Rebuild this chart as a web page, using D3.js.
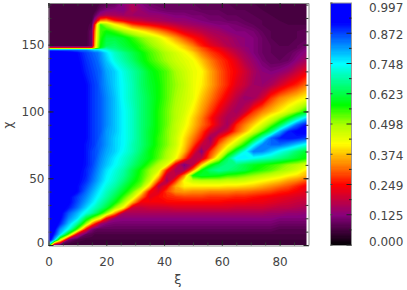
<!DOCTYPE html>
<html>
<head>
<meta charset="utf-8">
<script src="https://cdn.jsdelivr.net/npm/d3@7"></script>
<style>
body { margin: 0; background: #fff; }
text { font-family: "DejaVu Sans", sans-serif; font-size: 12px; fill: #444; }
</style>
</head>
<body>
<div id="chart"></div>
<script>
var xiVals = [0,2,4,7,10,13,15,16,17,18,20,23,26,29,32,35,38,41,44,47,50,53,56,59,62,65,68,71,74,77,80,83,86,90];
var chiVals = [0,4,8,12,16,20,24,28,32,36,40,44,48,52,56,60,65,70,75,80,85,90,95,100,110,120,130,138,144,146,147.5,149,155,160,165,168,172,176,181.2];

// percent of the colour bar range, one row per chi, bottom row first
var cells = [
[70,9,6,5,5,5,5,5,5,5,5,5,5,5,5,5,5,5,5,5,5,5,5,5,5,5,5,5,5,5,5,5,5,5],
[99,80,47,11,7,6,6,6,6,6,6,6,6,6,6,6,6,6,6,6,6,6,6,6,6,6,6,6,6,6,6,6,6,6],
[99,90,78,54,20,9,8,7,7,7,7,7,7,7,7,7,7,7,7,7,7,7,7,7,7,7,7,7,7,7,7,7,7,7],
[99,94,83,74,55,25,12,10,9,9,9,9,9,9,9,9,9,9,9,9,9,9,9,9,9,9,9,9,9,9,8,8,8,8],
[99,96,90,79,68,50,34,27,21,15,12,11,11,11,11,11,11,11,11,11,11,11,11,11,11,11,11,11,11,11,10,10,10,10],
[99,97,93,83,77,62,54,50,46,42,25,14,13,13,13,13,13,13,13,13,13,13,13,13,13,13,13,13,13,13,12,12,12,12],
[99,97,94,86,80,73,69,66,63,59,51,35,16,16,16,16,16,16,16,16,16,16,16,16,16,16,16,16,16,15,15,14,14,13],
[99,98,95,91,85,78,73,71,69,67,62,51,42,20,19,20,20,20,21,21,21,21,21,21,21,20,20,20,20,19,18,18,17,16],
[99,98,96,93,87,81,77,75,72,70,66,59,50,37,24,24,24,25,25,25,25,25,25,25,24,24,24,23,23,22,21,20,19,18],
[99,98,96,93,88,83,79,77,75,73,69,63,55,47,33,22,25,27,28,29,29,29,28,28,28,27,27,26,25,24,23,22,21,20],
[99,98,97,94,92,85,81,79,77,75,71,66,60,53,43,25,21,29,34,35,34,34,33,33,33,32,32,31,30,29,27,26,24,22],
[99,98,97,95,92,87,83,81,79,77,73,69,63,57,52,39,18,24,36,41,41,41,41,41,40,40,39,38,36,34,32,30,27,23],
[99,98,97,95,93,89,85,83,81,79,75,71,66,60,55,47,30,15,28,43,47,48,48,48,47,47,46,44,42,40,38,35,33,29],
[99,98,97,96,93,90,86,84,82,80,76,72,68,62,56,50,40,18,18,33,58,61,60,59,56,55,53,51,49,47,45,42,40,36],
[99,98,97,96,94,90,87,85,83,81,77,73,69,63,57,51,46,26,16,16,33,58,65,68,66,64,62,58,56,54,51,49,46,39],
[99,98,97,96,94,91,88,86,84,82,79,75,71,66,61,55,49,44,22,11,18,38,56,63,67,66,63,60,58,56,54,51,49,45],
[99,98,97,96,95,91,88,87,85,83,80,76,72,68,63,59,54,49,43,30,17,19,32,47,64,76,76,74,72,70,67,64,61,57],
[99,98,97,96,95,91,88,87,86,84,81,78,74,70,65,59,55,50,45,37,24,12,28,37,50,62,74,84,83,79,74,70,65,60],
[99,98,97,96,95,91,89,88,86,85,82,78,75,70,66,61,56,52,47,39,30,19,17,32,40,49,58,74,83,85,85,82,78,72],
[99,98,97,96,95,92,89,88,87,85,82,78,75,71,66,61,56,52,47,40,33,26,14,25,33,40,49,58,72,85,90,91,90,87],
[99,98,97,96,95,92,89,88,87,86,82,79,75,71,66,61,57,52,48,42,36,29,21,16,21,30,37,46,54,65,80,90,93,94],
[99,98,97,96,95,92,89,88,87,86,83,79,75,71,66,62,57,53,48,44,38,32,27,20,15,27,33,39,46,53,62,74,85,93],
[99,98,97,96,95,92,89,88,87,86,83,79,75,71,66,62,57,53,49,45,39,33,26,20,16,18,28,33,39,45,51,58,68,80],
[99,98,97,96,95,92,89,88,87,86,83,79,75,71,66,62,57,53,49,46,41,35,29,23,18,15,19,28,33,37,41,46,51,60],
[99,98,97,96,95,92,89,88,87,86,83,79,74,70,66,62,58,54,50,47,44,38,33,28,23,18,14,15,20,28,33,36,39,43],
[99,98,97,96,95,92,89,88,87,85,82,78,74,70,65,61,58,54,51,48,44,41,36,31,27,22,19,15,14,16,20,24,27,33],
[99,98,97,96,94,90,88,87,86,85,81,78,73,69,65,60,57,54,50,47,44,42,36,31,27,24,20,16,13,12,13,15,19,24],
[99,98,97,95,93,89,87,86,85,83,79,73,69,65,60,56,53,50,47,45,43,38,33,29,26,22,17,14,11,9,9,10,13,17],
[99,98,97,95,92,88,86,85,84,82,77,71,67,63,59,55,52,49,46,43,39,33,29,26,22,18,15,12,10,9,8,9,11,14],
[85,85,85,85,85,84,80,78,78,76,73,68,64,61,57,54,51,47,44,41,36,31,27,24,20,17,14,12,10,9,8,8,10,13],
[25,25,25,25,25,25,26,38,50,60,68,66,63,60,56,53,50,46,43,39,35,30,26,23,19,16,14,12,10,9,8,8,9,12],
[6,6,6,6,6,6,10,35,50,58,64,65,62,59,56,52,49,45,42,38,33,27,23,20,17,15,13,12,10,9,8,8,9,11],
[6,6,6,6,6,6,10,33,47,56,62,62,60,56,52,49,45,40,35,30,26,23,19,17,16,14,13,12,10,8,7,7,8,9],
[6,6,6,6,6,6,10,31,46,55,58,55,50,46,42,38,34,30,26,22,20,18,16,15,13,12,12,11,9,8,7,7,8,9],
[6,6,6,6,6,6,8,25,44,55,50,42,37,29,26,24,22,20,18,16,15,14,13,12,12,11,10,9,8,7,7,7,7,7],
[6,6,6,6,6,6,7,15,24,33,35,27,23,20,19,17,16,15,14,14,13,12,11,11,10,10,9,8,8,7,7,6,6,6],
[6,6,6,6,6,6,6,9,12,15,17,16,15,15,14,14,14,13,12,12,11,11,10,10,9,9,8,8,7,7,6,6,6,6],
[6,6,6,6,6,6,6,6,8,10,12,13,12,17,14,12,11,10,10,10,10,9,9,9,8,8,8,7,7,6,6,6,6,6],
[6,6,6,6,6,6,6,6,6,7,8,9,13,16,12,10,9,9,9,9,9,8,8,8,8,7,7,7,6,6,6,6,6,6]
];

var xTicks = [0,20,40,60,80];
var yTicks = [0,50,100,150];
var xMinor = [0,5,10,15,20,25,30,35,40,45,50,55,60,65,70,75,80,85];
var yMinor = [0,10,20,30,40,50,60,70,80,90,100,110,120,130,140,150,160,170,180];
var barLabels = ["0.000","0.125","0.249","0.374","0.498","0.623","0.748","0.872","0.997"];

var colorStops = [0,12.5,25,33,42,50,58,75,92,100];
var colorValues = ["#000000","#88007c","#ff0000","#ff8000","#ffff00","#aaff00","#00ff00","#00ffff","#0000ff","#0000ff"];

var width = 407;
var height = 290;
var x0 = 48.5, x1 = 308.5, imgRight = 306.5, y0 = 245, y1 = 3;
var barL = 330.5, barR = 351.5;

var color = d3.scaleLinear().domain(colorStops).range(colorValues);
var x = d3.scaleLinear().domain([0,90]).range([x0,x1]);
var y = d3.scaleLinear().domain([0,181.2]).range([y0,y1]);
var barY = d3.scaleLinear().domain([0,100]).range([y0,y1]);

// grid index -> data value, the grid is not evenly spaced
var xiOfIndex = d3.scaleLinear().domain(xiVals.map(function(d,i) { return i + 0.5; })).range(xiVals);
var chiOfIndex = d3.scaleLinear().domain(chiVals.map(function(d,i) { return i + 0.5; })).range(chiVals);

var svg = d3.select("#chart")
    .append("svg")
    .attr("width", width)
    .attr("height", height)
    .style("display", "block");

var defs = svg.append("defs");

defs.append("clipPath")
    .attr("id", "plotClip")
    .append("rect")
    .attr("x", x0)
    .attr("y", y1)
    .attr("width", imgRight - x0)
    .attr("height", y0 - y1);

defs.append("filter")
    .attr("id", "soften")
    .attr("color-interpolation-filters", "sRGB")
    .append("feGaussianBlur")
    .attr("stdDeviation", 0.7);

var project = d3.geoTransform({
    point: function(px, py) {
        this.stream.point(x(xiOfIndex(px)), y(chiOfIndex(py)));
    }
});

var levels = d3.range(0, 100, 1);
var contours = d3.contours()
    .size([xiVals.length, chiVals.length])
    .thresholds(levels)(d3.merge(cells));

svg.append("g")
    .attr("clip-path", "url(#plotClip)")
    .append("g")
    .attr("filter", "url(#soften)")
    .selectAll("path")
    .data(contours)
    .enter()
    .append("path")
        .attr("d", d3.geoPath(project))
        .attr("fill", function(d) { return color(d.value + 0.5); });

// frame axes, the ticks point into the picture
function drawFrameAxis(makeAxis, scale, tx, ty, major, minor, labels) {
    var gMinor = svg.append("g")
        .attr("transform", "translate(" + tx + "," + ty + ")")
        .call(makeAxis(scale).tickValues(minor).tickSize(-3).tickSizeOuter(0).tickFormat(""));
    gMinor.select(".domain").remove();
    gMinor.selectAll("line").attr("stroke", "#333");

    var gMajor = svg.append("g")
        .attr("transform", "translate(" + tx + "," + ty + ")")
        .call(makeAxis(scale).tickValues(major).tickSize(-5).tickSizeOuter(0).tickFormat(labels ? d3.format("d") : ""));
    gMajor.select(".domain").attr("stroke", "#888");
    gMajor.selectAll("line").attr("stroke", "#222");
    return gMajor;
}

var gx = drawFrameAxis(d3.axisBottom, x, 0, y0 + 0.5, xTicks, xMinor, true);
gx.selectAll("text").attr("y", 12);

var gy = drawFrameAxis(d3.axisLeft, y, x0, 0, yTicks, yMinor, true);
gy.selectAll("text").attr("x", -4)
    .attr("dy", function(d) { return d === 0 ? "0.1em" : "0.32em"; });

drawFrameAxis(d3.axisTop, x, 0, y1, xTicks, xMinor, false);
drawFrameAxis(d3.axisRight, y, x1, 0, yTicks, yMinor, false);

svg.append("text")
    .attr("x", x(44.8))
    .attr("y", 284)
    .attr("text-anchor", "middle")
    .style("font-size", "13px")
    .text("ξ");

svg.append("text")
    .attr("transform", "translate(11.5,125) rotate(-90)")
    .attr("text-anchor", "middle")
    .text("χ");

// colour bar
var barSteps = d3.range(0, 100, 0.5);
svg.append("g")
    .attr("shape-rendering", "crispEdges")
    .selectAll("rect")
    .data(barSteps)
    .enter()
    .append("rect")
        .attr("x", barL)
        .attr("width", barR - barL)
        .attr("y", function(d) { return barY(d + 0.5); })
        .attr("height", barY(0) - barY(0.5) + 1)
        .attr("fill", function(d) { return color(d); });

svg.append("rect")
    .attr("x", barL)
    .attr("y", y1)
    .attr("width", barR - barL)
    .attr("height", y0 - y1 + 0.5)
    .attr("fill", "none")
    .attr("stroke", "#999");

var barTickPos = barLabels.map(function(d, i) { return i * 12.5; });
var barMinorPos = d3.range(0, 100, 6.25);

svg.append("g")
    .selectAll("line")
    .data(barMinorPos)
    .enter()
    .append("line")
        .attr("x1", barR)
        .attr("x2", function(d, i) { return i % 2 === 0 ? barR - 5 : barR - 2.5; })
        .attr("y1", function(d) { return barY(d); })
        .attr("y2", function(d) { return barY(d); })
        .attr("stroke", "#222");

svg.append("g")
    .selectAll("line")
    .data(barTickPos)
    .enter()
    .append("line")
        .attr("x1", barL)
        .attr("x2", barL + 2)
        .attr("y1", function(d) { return barY(d); })
        .attr("y2", function(d) { return barY(d); })
        .attr("stroke", "#444");

svg.append("g")
    .selectAll("text")
    .data(barLabels)
    .enter()
    .append("text")
        .attr("x", 369)
        .attr("y", function(d, i) { return barY(barTickPos[i]) + (i === 0 ? 1.2 : i === 8 ? 9.2 : 5.4); })
        .text(function(d) { return d; });
</script>
</body>
</html>
